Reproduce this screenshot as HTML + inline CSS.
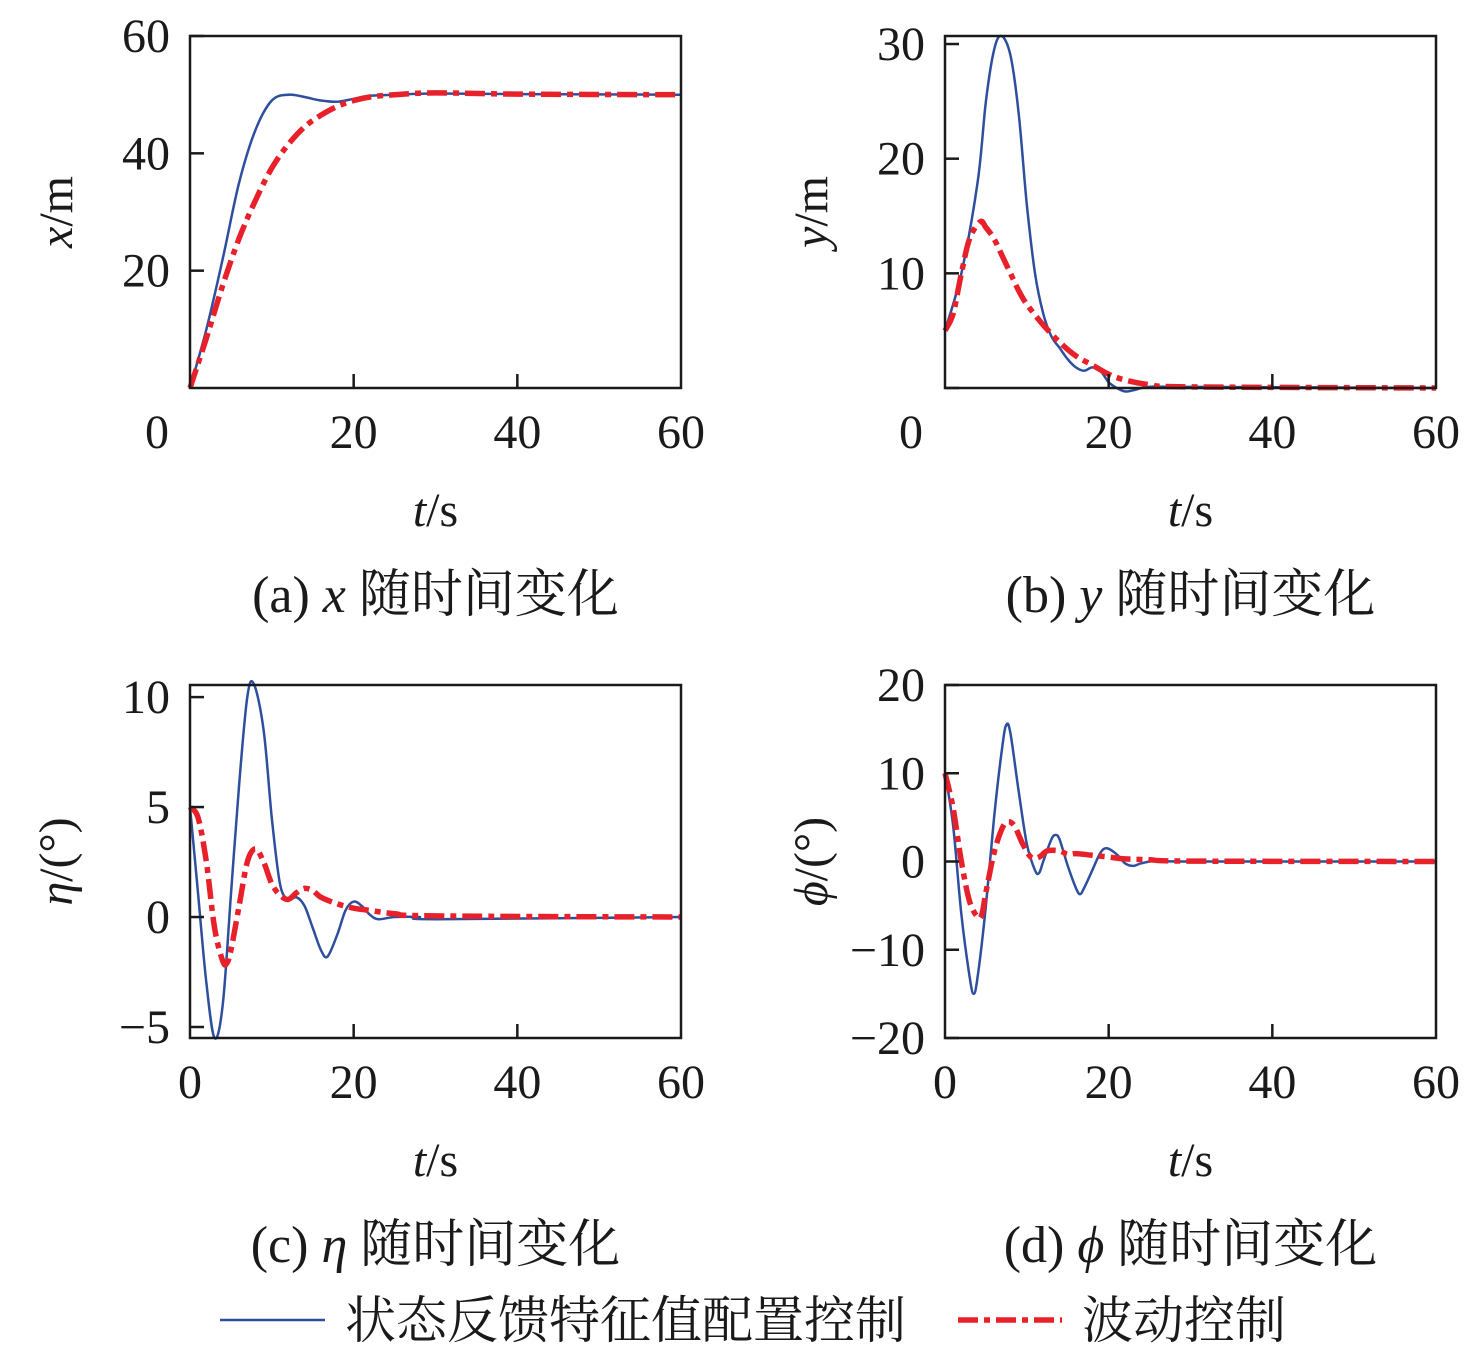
<!DOCTYPE html>
<html><head><meta charset="utf-8"><style>
body{margin:0;background:#fff}
svg text{font-family:"Liberation Serif","Noto Serif CJK SC","Noto Sans CJK SC",serif;fill:#1a1a1a}
</style></head><body>
<svg id="s" width="1476" height="1358" viewBox="0 0 1476 1358" xmlns="http://www.w3.org/2000/svg">
<g>
<line x1="220" y1="1320" x2="325" y2="1320" stroke="#2e4f9e" stroke-width="2.5"/>
<text x="345" y="1338" font-size="51">状态反馈特征值配置控制</text>
<line x1="958" y1="1320" x2="1062" y2="1320" stroke="#e8202a" stroke-width="5.5" stroke-dasharray="20 6 6 6"/>
<text x="1082" y="1338" font-size="51">波动控制</text>
</g>
</svg>
<script>
const tA=[0,2,4,6,8,10,12,14,16,18,20,22,25,30,40,60];
const xBlue=[0,10,22,35,44,49,50,49.6,49,48.8,49.3,49.8,50,50.2,50.1,50];
const xRed=[0,8.5,17.5,25.5,32,37.5,41.5,44.5,46.5,48,49,49.6,50,50.3,50.1,50];
const tYb=[0,2,4,5,6,6.9,8,9,10,11,12,13,14,15,16,17,18,19,20,21,22,23,25,30,60];
const yBlue=[5,10,18,25,29.5,30.7,29,24,16,10,6.5,4.5,3.5,2.5,1.8,1.5,1.8,1.5,0.5,0,-0.3,-0.2,0.1,0.1,0];
const tYr=[0,1,2,3,4.3,5,6,7,8,9,10,12,14,16,18,20,22,25,30,60];
const yRed=[5,6.5,10,13,14.5,14,13,11.5,10,8.5,7.3,5.5,4,2.8,2,1.2,0.7,0.3,0.1,0];
const tEb=[0,1,2,3,4,5,6,7,7.8,9,10,11,12,13,14,15,16,16.8,18,19,20,21,22,23,25,28,30,60];
const etaBlue=[5,1,-3,-5.5,-4,1,6,10,10.6,8.5,4.5,1.5,0.8,0.9,0.5,-0.5,-1.5,-1.8,-0.8,0.3,0.7,0.5,0.1,-0.1,0,0,-0.1,0];
const tEr=[0,1,2,3,4,4.5,5,6,7,8,9,10,11,12,13,14,15,16,18,20,22,25,30,60];
const etaRed=[5,4.5,2.5,-0.5,-2,-2.1,-1.5,0.5,2.5,3.1,2.5,1.5,1,0.8,1.1,1.3,1.2,0.9,0.6,0.4,0.3,0.15,0.05,0];
const tPb=[0,1,2,3,3.5,4,5,6,7,7.5,8,9,10,11,11.5,12,13,13.5,14,15,16,16.5,17,18,19,19.8,21,22,23,24,26,30,60];
const phiBlue=[10,4,-6,-13,-15,-13,-5,5,13,15.5,14.5,8,2,-1,-1.3,0,2.5,3,2.5,-0.5,-3,-3.7,-3,-1,1,1.5,0.8,-0.2,-0.5,-0.2,0.1,0,0];
const tPr=[0,1,2,3,4,4.5,5,6,7,7.7,8.5,9.5,10.5,11.5,12.5,14,15,16,18,20,22,25,30,60];
const phiRed=[10,6,0,-4.5,-6.3,-6,-3.5,1,3.8,4.5,4,2,0.5,0.5,1.2,1.2,0.8,0.9,0.7,0.5,0.3,0.2,0.05,0];
const xTicks=[0,20,40,60];
const panels=[
 {id:'a',x0:190,x1:681,y0:36,y1:388,ymin:0,ymax:60,yt:[20,40,60],yl:['20','40','60'],x0lab:157,lab:'x',unit:'/m',cap:['(a) ','x',' 随时间变化'],s:[[tA,xBlue],[tA,xRed]]},
 {id:'b',x0:945,x1:1436,y0:36,y1:388,ymin:0,ymax:30.7,yt:[0,10,20,30],yl:['','10','20','30'],x0lab:911,lab:'y',unit:'/m',cap:['(b) ','y',' 随时间变化'],s:[[tYb,yBlue],[tYr,yRed]]},
 {id:'c',x0:190,x1:681,y0:685,y1:1038,ymin:-5.5,ymax:10.55,yt:[-5,0,5,10],yl:['−5','0','5','10'],x0lab:190,lab:'η',unit:'/(°)',cap:['(c) ','η',' 随时间变化'],s:[[tEb,etaBlue],[tEr,etaRed]]},
 {id:'d',x0:945,x1:1436,y0:685,y1:1038,ymin:-20,ymax:20,yt:[-20,-10,0,10,20],yl:['−20','−10','0','10','20'],x0lab:945,lab:'ϕ',unit:'/(°)',cap:['(d) ','ϕ',' 随时间变化'],s:[[tPb,phiBlue],[tPr,phiRed]]}
];
const svg=document.getElementById('s');const NS='http://www.w3.org/2000/svg';
function mk(t,a,p){const e=document.createElementNS(NS,t);for(const k in a)e.setAttribute(k,a[k]);(p||svg).appendChild(e);return e;}
function path(pts){let d='M'+pts[0][0]+','+pts[0][1];for(let i=0;i<pts.length-1;i++){const p0=pts[Math.max(0,i-1)],p1=pts[i],p2=pts[i+1],p3=pts[Math.min(pts.length-1,i+2)];
 const c1=[p1[0]+(p2[0]-p0[0])/6,p1[1]+(p2[1]-p0[1])/6],c2=[p2[0]-(p3[0]-p1[0])/6,p2[1]-(p3[1]-p1[1])/6];
 d+=' C'+c1[0].toFixed(1)+','+c1[1].toFixed(1)+' '+c2[0].toFixed(1)+','+c2[1].toFixed(1)+' '+p2[0].toFixed(1)+','+p2[1].toFixed(1);}return d;}
panels.forEach(P=>{
 const g=mk('g',{});
 
 
 const sx=t=>P.x0+(t/60)*(P.x1-P.x0);
 const sy=v=>P.y1-(v-P.ymin)/(P.ymax-P.ymin)*(P.y1-P.y0);
 P.s.forEach((s,i)=>{
  const pts=s[0].map((t,j)=>[sx(t),sy(s[1][j])]);
  const p=mk('path',{d:path(pts),fill:'none',stroke:i?'#e8202a':'#2e4f9e','stroke-width':i?5.5:2.5,'stroke-dasharray':i?'20 6 6 6':'none'},g);
  
  
 });
 const box=mk('rect',{x:P.x0,y:P.y0,width:P.x1-P.x0,height:P.y1-P.y0,fill:'none',stroke:'#1a1a1a','stroke-width':2.5},g);
 
 
 P.yt.forEach((v,i)=>{
  const y=sy(v);
  mk('line',{x1:P.x0,x2:P.x0+14,y1:y,y2:y,stroke:'#1a1a1a','stroke-width':2.5},g);
  if(P.yl[i]){const t=mk('text',{x:P.x0-20,y:y+16,'font-size':48,'text-anchor':'end'},g);t.textContent=P.yl[i];
  
  }
 });
 xTicks.forEach(v=>{
  const x=sx(v);
  if(v>0&&v<60)mk('line',{x1:x,x2:x,y1:P.y1,y2:P.y1-14,stroke:'#1a1a1a','stroke-width':2.5},g);
  const t=mk('text',{x:v===0?P.x0lab:x,y:P.y1+60,'font-size':48,'text-anchor':'middle'},g);t.textContent=v;
  
  
 });
 const cx=(P.x0+P.x1)/2;
 const xt=mk('text',{x:cx,y:P.y1+138,'font-size':48,'text-anchor':'middle'},g);
 xt.innerHTML='<tspan font-style="italic">t</tspan>/s';
 
 
 const yc=(P.y0+P.y1)/2, yx=P.x0-118;
 const yt=mk('text',{x:0,y:0,'font-size':48,'text-anchor':'middle',transform:'translate('+yx+','+yc+') rotate(-90)'},g);
 yt.innerHTML='<tspan font-style="italic">'+P.lab+'</tspan>'+P.unit;
 
 
 const ct=mk('text',{x:cx,y:P.y1+224,'font-size':52,'text-anchor':'middle'},g);
 ct.innerHTML=P.cap[0]+'<tspan font-style="italic">'+P.cap[1]+'</tspan>'+P.cap[2];
 
 
});
</script>
</body></html>
